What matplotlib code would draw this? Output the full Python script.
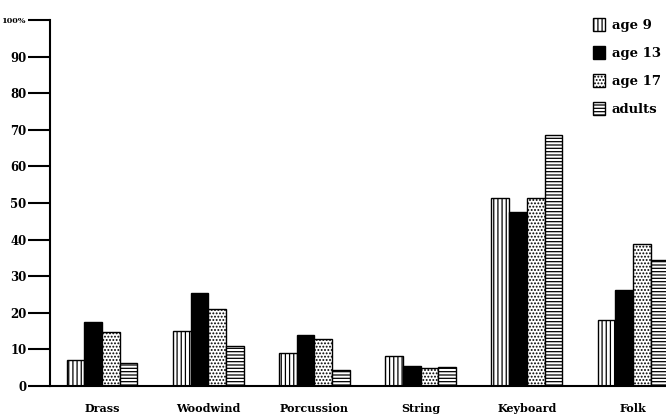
import numpy as np
import matplotlib
matplotlib.use('Agg')
import matplotlib.pyplot as plt
from matplotlib.patches import Patch

# Data (percent)
instruments = ['Drass', 'Woodwind', 'Porcussion', 'String', 'Keyboard', 'Folk']
groups = ['age 9', 'age 13', 'age 17', 'adults']
age9 = [7, 15, 9, 8.2, 51.5, 18]
age13 = [17.4, 25.5, 14, 5.5, 47.5, 26.2]
age17 = [14.8, 21, 12.8, 5, 51.5, 38.7]
adults = [6.3, 11, 4.5, 5.3, 68.5, 34.4]
yticks = [0, 10, 20, 30, 40, 50, 60, 70, 80, 90, 100]
ytick_labels = ['0', '10', '20', '30', '40', '50', '60', '70', '80', '90', '100%']

plt.rcParams['font.family'] = 'DejaVu Serif'
plt.rcParams['font.weight'] = 'bold'
plt.rcParams['hatch.linewidth'] = 0.9

fig = plt.figure(figsize=(6.66, 4.17), dpi=100)
ax = fig.add_axes([50/666, 31/417, 616/666, 366/417])

series = [age9, age13, age17, adults]
styles = [
    dict(color='white', hatch='||||'),
    dict(color='black', hatch=None),
    dict(color='white', hatch='.....'),
    dict(color='white', hatch='-----'),
]
x = np.arange(len(instruments)) * 6
for j, (vals, st) in enumerate(zip(series, styles)):
    ax.bar(x + j, vals, width=1.0, color=st['color'], hatch=st['hatch'],
           edgecolor='black', linewidth=1.0, label=groups[j])

ax.set_xlim(-1.44, 33.36)
ax.set_ylim(0, 100)
ax.spines['top'].set_visible(False)
ax.spines['right'].set_visible(False)
ax.spines['left'].set_linewidth(1.5)
ax.spines['bottom'].set_linewidth(1.5)

ax.set_yticks(yticks)
ax.set_yticklabels(ytick_labels, fontsize=8.5)
for lab in ax.get_yticklabels():
    if lab.get_text() == '100%':
        lab.set_fontsize(5.8)
ax.tick_params(axis='y', length=16, width=1.5, pad=1)

ax.set_xticks(x + 1.5)
ax.set_xticklabels(instruments, fontsize=8)
ax.tick_params(axis='x', length=0, pad=12)

handles = [Patch(facecolor=st['color'], hatch=st['hatch'], edgecolor='black', label=g)
           for st, g in zip(styles, groups)]
leg = ax.legend(handles=handles, loc='upper right', bbox_to_anchor=(1.0, 1.02),
                frameon=False, fontsize=9.5, handlelength=0.9, handleheight=1.15,
                handletextpad=0.5, labelspacing=1.05, borderaxespad=0.0)

plt.savefig('out.png', dpi=100)
plt.close()
